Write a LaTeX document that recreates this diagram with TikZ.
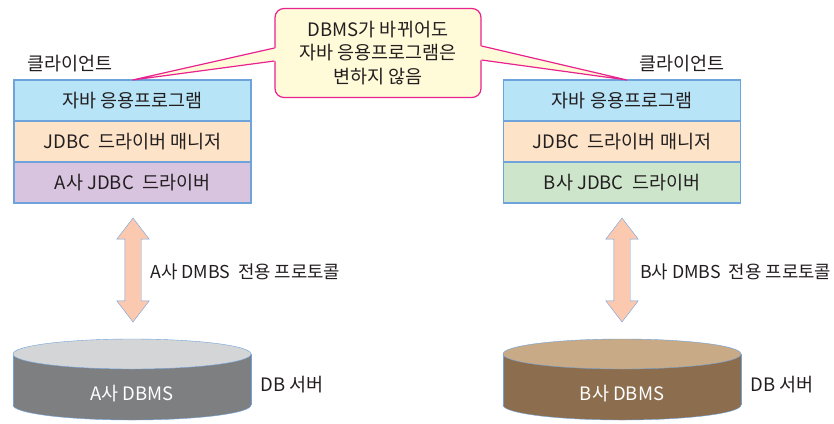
\documentclass[tikz,border=0pt]{standalone}
\usepackage{fontspec}
\setmainfont{Noto Sans CJK KR}
\usetikzlibrary{positioning,shapes.arrows}
\definecolor{frame}{HTML}{6FA3DC}
\definecolor{txt}{HTML}{231F20}
\definecolor{appc}{HTML}{B8E4F8}
\definecolor{mgrc}{HTML}{FDE4C8}
\definecolor{drvAc}{HTML}{D9C4E0}
\definecolor{drvBc}{HTML}{CDE6CB}
\definecolor{notec}{HTML}{FFFAD8}
\definecolor{noteline}{HTML}{E8228E}
\definecolor{arrowc}{HTML}{FBC8B0}
\definecolor{graytop}{HTML}{D4D5D7}
\definecolor{graybody}{HTML}{7E7F81}
\definecolor{tantop}{HTML}{C9AA86}
\definecolor{tanbody}{HTML}{8C6E4F}
\tikzset{
    every node/.style={font=\fontsize{18.5}{23.5}\selectfont,text=txt},
    layer/.style={draw=frame,line width=1.2pt,minimum width=237pt,minimum height=41pt,outer sep=0pt,inner sep=0pt},
    proto/.style={double arrow,rotate=90,draw=frame,fill=arrowc,minimum height=104pt,minimum width=32pt,inner xsep=0pt,inner ysep=8pt,double arrow head extend=8pt,double arrow tip angle=75},
    plabel/.style={anchor=west,inner sep=0pt,font=\fontsize{17.8}{20}\selectfont},
}
\begin{document}
\begin{tikzpicture}[x=1pt,y=-1pt]
    \useasboundingbox (0,0) rectangle (834,423);
    \node[layer,fill=appc](appA) at (132.5,100.5){자바 응용프로그램};
    \node[layer,fill=mgrc,below=0pt of appA](mgrA){JDBC~~드라이버 매니저};
    \node[layer,fill=drvAc,below=0pt of mgrA](drvA){A사 JDBC~~드라이버};
    \node[layer,fill=appc](appB) at (622,100.5){자바 응용프로그램};
    \node[layer,fill=mgrc,below=0pt of appB](mgrB){JDBC~~드라이버 매니저};
    \node[layer,fill=drvBc,below=0pt of mgrB](drvB){B사 JDBC~~드라이버};
    \node[above right=5pt and 10pt of appA.north west](cliA){클라이언트};
    \node[above left=5pt and 12pt of appB.north east](cliB){클라이언트};
    \node[draw=noteline,line width=1.2pt,fill=notec,rounded corners=9pt,minimum width=206pt,minimum height=89pt,align=center](note) at (378,53){DBMS가 바뀌어도\\자바 응용프로그램은\\변하지 않음};
    \fill[notec]([xshift=2pt,yshift=5pt]note.west)--(appA.north)--([xshift=2pt,yshift=-8pt]note.west)--cycle;
    \fill[notec]([xshift=-2pt,yshift=7pt]note.east)--([xshift=5pt]appB.north)--([xshift=-2pt,yshift=-7pt]note.east)--cycle;
    \draw[noteline,line width=1.2pt]([yshift=5pt]note.west)--(appA.north)--([yshift=-8pt]note.west);
    \draw[noteline,line width=1.2pt]([yshift=7pt]note.east)--([xshift=5pt]appB.north)--([yshift=-7pt]note.east);
    \node[proto](arrA) at (133,270){};
    \node[proto](arrB) at (622,270){};
    \node[plabel](protA) at (150,272){A사 DMBS~~전용 프로토콜};
    \node[plabel](protB) at (640,272){B사 DMBS~~전용 프로토콜};
    \foreach \cx/\topc/\bodyc in {132/graytop/graybody,622/tantop/tanbody}{
        \filldraw[fill=\bodyc,draw=frame](\cx,405)ellipse[x radius=119,y radius=15];
        \fill[\bodyc](\cx-119,354)rectangle(\cx+119,405);
        \draw[frame](\cx-119,354)--(\cx-119,405) (\cx+119,354)--(\cx+119,405);
        \filldraw[fill=\topc,draw=frame](\cx,354)ellipse[x radius=119,y radius=15];
    }
    \node[text=white](dbA) at (132,394){A사 DBMS};
    \node[text=white](dbB) at (622,394){B사 DBMS};
    \node[anchor=west](srvA) at (257,385){DB 서버};
    \node[anchor=west](srvB) at (747,385){DB 서버};
\end{tikzpicture}
\end{document}
